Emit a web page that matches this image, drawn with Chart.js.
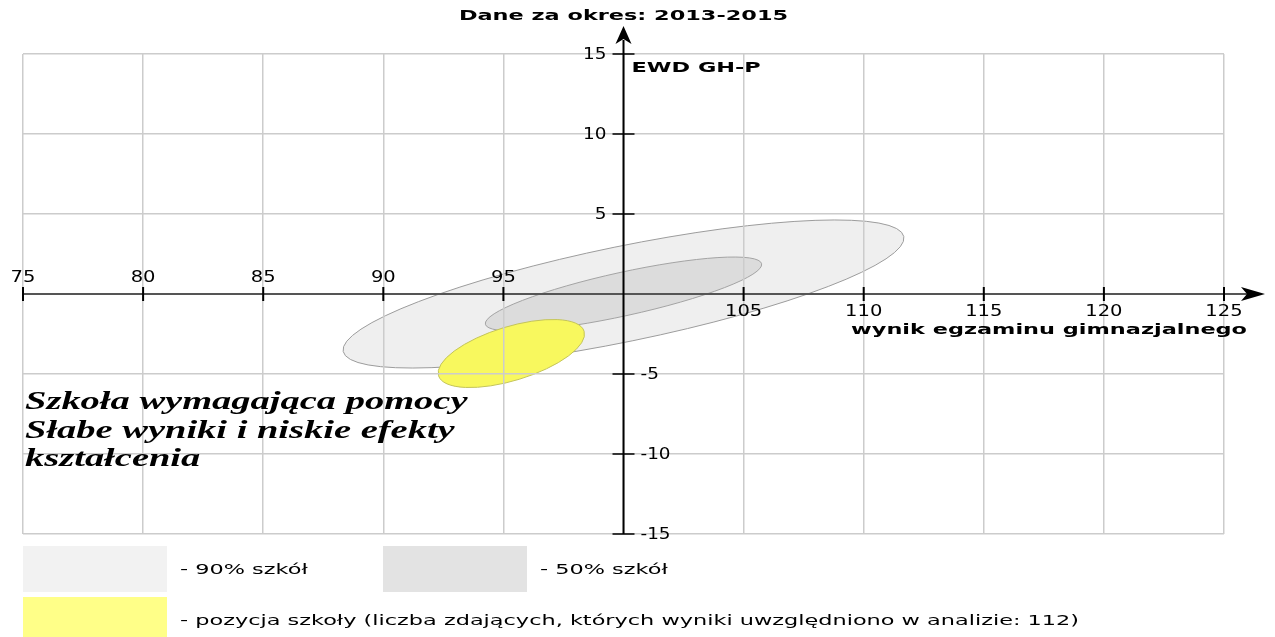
<!DOCTYPE html>
<html>
<head>
<meta charset="utf-8">
<script src="https://cdn.jsdelivr.net/npm/chart.js@4/dist/chart.umd.min.js"></script>
<style>
  html, body { margin: 0; padding: 0; background: #fff; }
  #wrap { width: 1275px; height: 637px; position: relative; }
</style>
</head>
<body>
<div id="wrap"><canvas id="ewd"></canvas></div>
<script>
// --- data ---
const chartTitle = "Dane za okres: 2013-2015";
const xAxisTitle = "wynik egzaminu gimnazjalnego";
const yAxisTitle = "EWD GH-P";
const xTickValues = [75, 80, 85, 90, 95, 105, 110, 115, 120, 125];
const yTickValues = [15, 10, 5, -5, -10, -15];

// ellipses: centre, end of major semi-axis, end of minor semi-axis (data units)
const ellipseNames = ["90% szkół", "50% szkół", "pozycja szkoły"];
const ellipseCenters = [[100, 0], [100, 0], [95.33, -3.72]];
const ellipseMajorEnds = [[111.67, 3.59], [105.75, 1.89], [98.36, -2.33]];
const ellipseMinorEnds = [[99.61, 2.92], [99.81, 1.33], [95.00, -2.11]];

const legendLabels = [
  "- 90% szkół",
  "- 50% szkół",
  "- pozycja szkoły (liczba zdających, których wyniki uwzględniono w analizie: 112)"
];
const noteLines = ["Szkoła wymagająca pomocy", "Słabe wyniki i niskie efekty", "kształcenia"];

// styles
const ellipseFill = ["#efefef", "#dcdcdc", "#f8f85e"];
const ellipseStroke = ["#9c9c9c", "#a4a4a4", "#c4c45a"];
const legendFill = ["#f2f2f2", "#e3e3e3", "#ffff88"];

function stretchText(ctx, text, x, y, font, sx, align, baseline) {
  ctx.save();
  ctx.font = font;
  ctx.textAlign = align || "left";
  ctx.textBaseline = baseline || "middle";
  ctx.fillStyle = "#000";
  ctx.translate(x, y);
  ctx.scale(sx, 1);
  ctx.fillText(text, 0, 0);
  ctx.restore();
}

const ellipsePlugin = {
  id: "ellipses",
  beforeDraw(chart) {
    const ctx = chart.ctx;
    const xs = chart.scales.x, ys = chart.scales.y;
    const px = (p) => ({ x: xs.getPixelForValue(p[0]), y: ys.getPixelForValue(p[1]) });
    ellipseCenters.forEach((c0, i) => {
      const c = px(c0), m = px(ellipseMajorEnds[i]), n = px(ellipseMinorEnds[i]);
      ctx.save();
      const base = ctx.getTransform();
      ctx.beginPath();
      ctx.transform(m.x - c.x, m.y - c.y, n.x - c.x, n.y - c.y, c.x, c.y);
      ctx.arc(0, 0, 1, 0, Math.PI * 2);
      ctx.setTransform(base);
      ctx.fillStyle = ellipseFill[i];
      ctx.fill();
      ctx.lineWidth = 1;
      ctx.strokeStyle = ellipseStroke[i];
      ctx.stroke();
      ctx.restore();
    });
  }
};

const overlayPlugin = {
  id: "overlay",
  afterDraw(chart) {
    const ctx = chart.ctx;
    const xs = chart.scales.x, ys = chart.scales.y;
    const area = chart.chartArea;
    const x0 = xs.getPixelForValue(100);
    const y0 = ys.getPixelForValue(0);
    ctx.save();

    // horizontal axis
    ctx.strokeStyle = "#555";
    ctx.lineWidth = 2;
    ctx.beginPath();
    ctx.moveTo(area.left, y0);
    ctx.lineTo(1248, y0);
    ctx.stroke();
    ctx.fillStyle = "#000";
    ctx.beginPath();
    ctx.moveTo(1265, y0);
    ctx.lineTo(1241, y0 - 7);
    ctx.lineTo(1247, y0);
    ctx.lineTo(1241, y0 + 7);
    ctx.closePath();
    ctx.fill();

    // vertical axis
    ctx.strokeStyle = "#000";
    ctx.beginPath();
    ctx.moveTo(x0, area.bottom);
    ctx.lineTo(x0, 40);
    ctx.stroke();
    ctx.beginPath();
    ctx.moveTo(x0, 26);
    ctx.lineTo(x0 - 8, 44);
    ctx.lineTo(x0, 39);
    ctx.lineTo(x0 + 8, 44);
    ctx.closePath();
    ctx.fill();

    // ticks + labels
    const tickFont = "16px 'DejaVu Sans'";
    ctx.lineWidth = 2;
    xTickValues.forEach((v) => {
      const x = xs.getPixelForValue(v);
      ctx.strokeStyle = "#000";
      ctx.beginPath();
      ctx.moveTo(x, y0 - 7);
      ctx.lineTo(x, y0 + 7);
      ctx.stroke();
      if (v < 100) stretchText(ctx, String(v), x, y0 - 16, tickFont, 1.22, "center");
      else stretchText(ctx, String(v), x, y0 + 18, tickFont, 1.22, "center");
    });
    ctx.lineWidth = 1.5;
    yTickValues.forEach((v) => {
      const y = ys.getPixelForValue(v);
      ctx.strokeStyle = "#000";
      ctx.beginPath();
      ctx.moveTo(x0 - 11, y);
      ctx.lineTo(x0 + 11, y);
      ctx.stroke();
      if (v > 0) stretchText(ctx, String(v), x0 - 17, y + 1, tickFont, 1.15, "right");
      else stretchText(ctx, String(v), x0 + 17, y + 1, tickFont, 1.15, "left");
    });

    // titles
    const boldFont = "bold 14px 'DejaVu Sans'";
    stretchText(ctx, chartTitle, x0, 16, boldFont, 1.6, "center");
    stretchText(ctx, yAxisTitle, x0 + 8, 68, boldFont, 1.6, "left");
    stretchText(ctx, xAxisTitle, 1247, y0 + 36, boldFont, 1.6, "right");

    // note
    const noteFont = "italic bold 26px 'Liberation Serif'";
    [409, 438, 466].forEach((by, i) => {
      stretchText(ctx, noteLines[i], 25, by, noteFont, 1.48, "left", "alphabetic");
    });

    // legend
    const legendFont = "14px 'DejaVu Sans'";
    const boxes = [[23, 546], [383, 546], [23, 597]];
    boxes.forEach((b, i) => {
      ctx.fillStyle = legendFill[i];
      ctx.fillRect(b[0], b[1], 144, 46);
      stretchText(ctx, legendLabels[i], b[0] + 157, b[1] + 24, legendFont, 1.6, "left");
    });
    ctx.restore();
  }
};

new Chart(document.getElementById("ewd"), {
  type: "scatter",
  data: { datasets: [{ label: ellipseNames[2], data: [] }] },
  options: {
    responsive: true,
    maintainAspectRatio: false,
    animation: false,
    events: [],
    layout: { padding: { left: 23, top: 54, right: 51, bottom: 103 } },
    plugins: { legend: { display: false }, tooltip: { enabled: false } },
    scales: {
      x: {
        type: "linear", min: 75, max: 125,
        ticks: { display: false, stepSize: 5 },
        grid: { color: "#cccccc", lineWidth: 1.5, drawTicks: false },
        border: { display: false }
      },
      y: {
        type: "linear", min: -15, max: 15,
        ticks: { display: false, stepSize: 5 },
        grid: { color: "#cccccc", lineWidth: 1.5, drawTicks: false },
        border: { display: false }
      }
    }
  },
  plugins: [ellipsePlugin, overlayPlugin]
});
</script>
</body>
</html>
